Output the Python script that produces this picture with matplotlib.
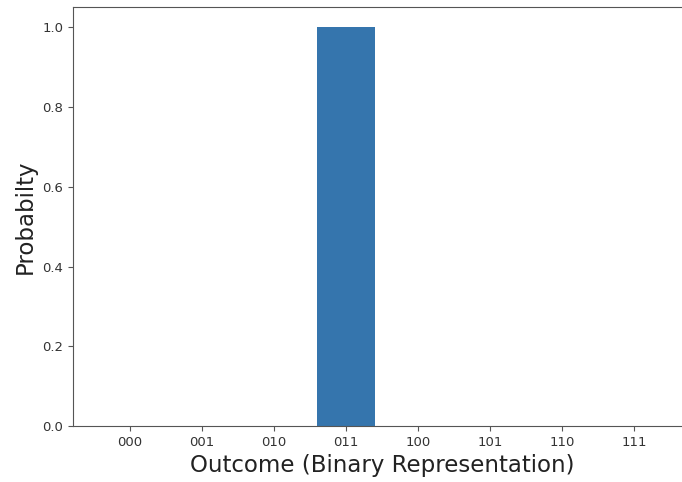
import matplotlib
matplotlib.use("Agg")
import matplotlib.pyplot as plt

# Measurement outcomes of the 3-qubit circuit and their probabilities
outcomes = ["000", "001", "010", "011", "100", "101", "110", "111"]
probabilities = [0.0, 0.0, 0.0, 1.0, 0.0, 0.0, 0.0, 0.0]

fig = plt.figure(figsize=(6.82, 4.82), dpi=100)
ax = fig.add_axes([0.107, 0.116, 0.906, 0.869])

ax.bar(outcomes, probabilities, width=0.8, color="#3575ad")

ax.set_xlabel("Outcome (Binary Representation)", fontsize=16.5, color="#222222", labelpad=4)
ax.set_ylabel("Probabilty", fontsize=16.5, color="#222222", labelpad=4)
ax.tick_params(labelsize=9.5, labelcolor="#333333", color="#555555")

for spine in ax.spines.values():
    spine.set_color("#555555")

fig.savefig("out.png", dpi=100)
